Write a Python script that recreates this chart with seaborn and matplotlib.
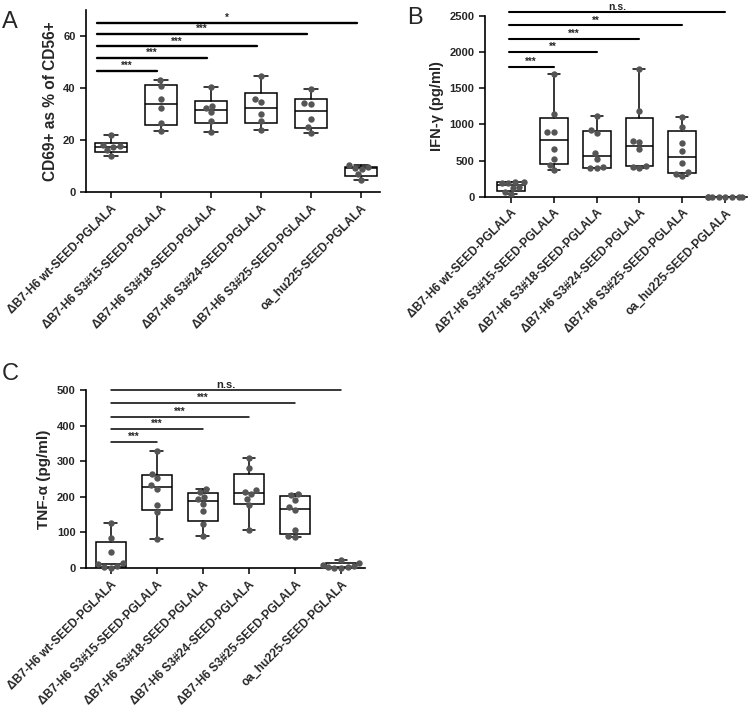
import numpy as np
import pandas as pd
import matplotlib
matplotlib.use("Agg")
import matplotlib.pyplot as plt
import seaborn as sns

groups = ['\u0394B7-H6 wt-SEED-PGLALA', '\u0394B7-H6 S3#15-SEED-PGLALA',
          '\u0394B7-H6 S3#18-SEED-PGLALA', '\u0394B7-H6 S3#24-SEED-PGLALA',
          '\u0394B7-H6 S3#25-SEED-PGLALA', 'oa_hu225-SEED-PGLALA']

# panel A, CD69+ as % of CD56+ (n=6)
cd69 = [[22, 18, 17.6, 17.2, 16, 14],
        [43, 40.6, 35.7, 32.3, 26.7, 23.6],
        [40.4, 33.2, 32.3, 30.7, 27.5, 23.1],
        [44.7, 35.7, 34.5, 30.2, 27.5, 23.7],
        [39.8, 34.4, 34, 28, 25, 22.8],
        [10.5, 9.6, 9.4, 8.8, 6.8, 4.6]]

# panel B, IFN-gamma pg/ml (n=8)
ifng = [[210, 205, 195, 190, 140, 120, 70, 35],
        [1700, 1150, 900, 895, 665, 515, 440, 365],
        [1120, 925, 875, 610, 525, 405, 400, 390],
        [1770, 1190, 770, 750, 655, 430, 415, 395],
        [1100, 970, 740, 635, 460, 335, 320, 290],
        [0, 0, 0, 0, 0, 0, 0, 0]]

# panel C, TNF-alpha pg/ml (n=8)
tnfa = [[125, 84, 44, 13, 11, 6, 3, 1],
        [328, 265, 252, 232, 222, 178, 158, 80],
        [221, 214, 200, 193, 181, 159, 124, 90],
        [308, 280, 218, 212, 207, 193, 176, 107],
        [207, 205, 191, 170, 164, 108, 90, 87],
        [22, 15, 8, 5, 3, 2, 1, 0]]

sig_a = ['***', '***', '***', '***', '*']
sig_a_y = [46.5, 51.5, 56, 60.7, 65]
sig_b = ['***', '**', '***', '**', 'n.s.']
sig_b_y = [1800, 2000, 2180, 2370, 2550]
sig_c = ['***', '***', '***', '***', 'n.s.']
sig_c_y = [355, 391, 425, 463, 500]

sns.set_style("ticks")
plt.rcParams['font.family'] = ['Liberation Sans', 'DejaVu Sans']
plt.rcParams['font.weight'] = 'bold'


def to_frame(vals):
    rows = []
    for g, v in zip(groups, vals):
        for x in v:
            rows.append((g, x))
    return pd.DataFrame(rows, columns=['group', 'value'])


def box_stats(vals):
    # quartiles the (n+1)p way, whiskers min to max
    out = []
    for v in vals:
        q1, med, q3 = np.percentile(v, [25, 50, 75], method='weibull')
        out.append(dict(med=med, q1=q1, q3=q3, whislo=min(v), whishi=max(v), fliers=[]))
    return out


def panel(ax, vals, ylim, yticks, ylabel, ylsize, sig, sig_y, xlim, x0, dx, lw, ns_size):
    df = to_frame(vals)
    sns.swarmplot(data=df, x='group', y='value', order=groups, color='#555555',
                  size=4.6, ax=ax, zorder=3)
    for c in ax.collections:
        c.set_clip_on(False)
    lp = dict(color='black', linewidth=1.1)
    ax.bxp(box_stats(vals), positions=range(len(groups)), widths=0.65,
           capwidths=0.28, patch_artist=True, showfliers=False, manage_ticks=False,
           boxprops=dict(facecolor='white', edgecolor='black', linewidth=1.1),
           medianprops=lp, whiskerprops=lp, capprops=lp, zorder=2)
    ax.set_xlim(*xlim)
    ax.set_ylim(*ylim)
    ax.set_yticks(yticks)
    ax.set_xlabel('')
    ax.set_ylabel(ylabel, fontsize=ylsize, fontweight='bold')
    ax.set_xticks(range(len(groups)))
    ax.set_xticklabels(groups, rotation=45, ha='right', rotation_mode='anchor',
                       fontsize=8.6, fontweight='bold')
    for t in ax.get_yticklabels():
        t.set_fontsize(8)
        t.set_fontweight('bold')
    ax.tick_params(length=4, width=1.1, color='black')
    for s in ['left', 'bottom']:
        ax.spines[s].set_linewidth(1.2)
        ax.spines[s].set_color('black')
    sns.despine(ax=ax)
    for j, (lab, y) in enumerate(zip(sig, sig_y)):
        x1 = j + 1 + dx
        ax.plot([x0, x1], [y, y], color='black', lw=lw, clip_on=False)
        fs = ns_size if lab == 'n.s.' else 7
        ax.text((x0 + x1) / 2, y, lab, ha='center', va='bottom', fontsize=fs,
                fontweight='bold')


fig = plt.figure(figsize=(7.49, 7.09), dpi=100)
ax_a = fig.add_axes([0.1148, 0.729, 0.3925, 0.257])
ax_b = fig.add_axes([0.6475, 0.7226, 0.3495, 0.2548])
ax_c = fig.add_axes([0.1148, 0.1989, 0.3725, 0.2511])

panel(ax_a, cd69, (0, 70), [0, 20, 40, 60], 'CD69+ as % of CD56+', 11.2,
      sig_a, sig_a_y, (-0.5, 5.38), -0.28, -0.08, 1.7, 7)
panel(ax_b, ifng, (0, 2500), [0, 500, 1000, 1500, 2000, 2500], 'IFN-\u03b3 (pg/ml)', 10.5,
      sig_b, sig_b_y, (-0.6, 5.5), -0.05, 0.0, 1.5, 7.5)
panel(ax_c, tnfa, (0, 500), [0, 100, 200, 300, 400, 500], 'TNF-\u03b1 (pg/ml)', 11,
      sig_c, sig_c_y, (-0.54, 5.52), 0.0, 0.0, 1.1, 8)

fig.text(0.002, 0.985, 'A', fontsize=17, fontweight='normal', va='top')
fig.text(0.543, 0.99, 'B', fontsize=17, fontweight='normal', va='top')
fig.text(0.002, 0.488, 'C', fontsize=17, fontweight='normal', va='top')

fig.savefig('out.png', dpi=100)
